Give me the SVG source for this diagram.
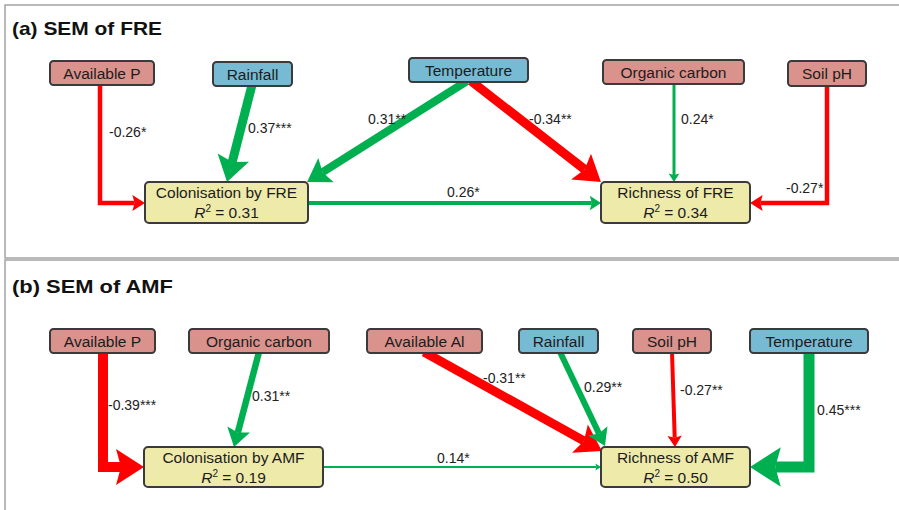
<svg xmlns="http://www.w3.org/2000/svg" width="899" height="510" viewBox="0 0 899 510">
<style>
.frame{stroke:#a3a3a3;stroke-width:1.5;fill:none}
.title{font-family:"Liberation Sans",Arial,sans-serif;font-weight:bold;font-size:19px;fill:#111}
.node rect{stroke:#3a3a3a;stroke-width:2}
.env rect{fill:#d9928c}
.clim rect{fill:#76bad3}
.resp rect{fill:#eeeaaa}
.node text{font-family:"Liberation Sans",Arial,sans-serif;font-size:15.5px;fill:#1c1c1c;text-anchor:middle}
.lbl{font-family:"Liberation Sans",Arial,sans-serif;font-size:14px;fill:#222}
.pos{stroke:#00b050;fill:none;stroke-linejoin:miter;marker-end:url(#ag)}
.neg{stroke:#ff0000;fill:none;stroke-linejoin:miter;marker-end:url(#ar)}
</style>
<defs>
<marker id="ag" markerUnits="strokeWidth" markerWidth="3" markerHeight="3.6" refX="0.5" refY="1.8" orient="auto" overflow="visible"><path d="M0,0 L2.8,1.8 L0,3.6 L0.5,1.8 Z" fill="#00b050"/></marker>
<marker id="ar" markerUnits="strokeWidth" markerWidth="3" markerHeight="3.6" refX="0.5" refY="1.8" orient="auto" overflow="visible"><path d="M0,0 L2.8,1.8 L0,3.6 L0.5,1.8 Z" fill="#ff0000"/></marker>
</defs>
<rect width="899" height="510" fill="#ffffff"/>
<g id="frames">
<path class="frame" d="M899,5 H5 V258 H899"/>
<path class="frame" d="M899,260 H5 V510"/>
</g>
<text class="title" x="12" y="35" textLength="150" lengthAdjust="spacingAndGlyphs">(a) SEM of FRE</text>
<text class="title" x="12" y="293" textLength="161" lengthAdjust="spacingAndGlyphs">(b) SEM of AMF</text>

<g id="connectors">
<!-- panel a -->
<path class="neg" stroke-width="4.5" d="M100,84 V203 H134.6"/>
<path class="pos" stroke-width="9" d="M252,85 L232.2,162"/>
<path class="pos" stroke-width="8" d="M467,81 L322.6,172.2"/>
<path class="neg" stroke-width="9" d="M471,81 L584.6,169.4"/>
<path class="pos" stroke-width="3" d="M674,83 V175.1"/>
<path class="neg" stroke-width="4.5" d="M827,85 V203 H760.4"/>
<path class="pos" stroke-width="4" d="M307,203 H591.8"/>
<!-- panel b -->
<path class="neg" stroke-width="10" d="M103,352 V467 H121"/>
<path class="pos" stroke-width="6.5" d="M259,352 L237.8,432.6"/>
<path class="pos" stroke-width="2" d="M322,467 H596.4"/>
<path class="neg" stroke-width="9" d="M424,352 L583.9,440.9"/>
<path class="pos" stroke-width="6" d="M560,352 L599,433.6"/>
<path class="neg" stroke-width="4" d="M672,352 L674.7,437.8"/>
<path class="pos" stroke-width="11" d="M809,352 V467 H775.3"/>
</g>

<g id="labels">
<text class="lbl" x="109" y="137">-0.26*</text>
<text class="lbl" x="248" y="133">0.37***</text>
<text class="lbl" x="368" y="124">0.31**</text>
<text class="lbl" x="529" y="124">-0.34**</text>
<text class="lbl" x="681" y="124">0.24*</text>
<text class="lbl" x="786" y="193">-0.27*</text>
<text class="lbl" x="447" y="197">0.26*</text>
<text class="lbl" x="108" y="410">-0.39***</text>
<text class="lbl" x="252" y="401">0.31**</text>
<text class="lbl" x="437" y="463">0.14*</text>
<text class="lbl" x="483" y="383">-0.31**</text>
<text class="lbl" x="584" y="392">0.29**</text>
<text class="lbl" x="680" y="395">-0.27**</text>
<text class="lbl" x="817" y="415">0.45***</text>
</g>

<!-- panel a nodes -->
<g id="a-availP" class="node env"><rect x="50" y="61" width="104" height="24" rx="3.5"/><text x="102" y="78.5">Available P</text></g>
<g id="a-rainfall" class="node clim"><rect x="213" y="62" width="79" height="24" rx="3.5"/><text x="252.5" y="79.5">Rainfall</text></g>
<g id="a-temp" class="node clim"><rect x="409" y="58" width="119" height="24" rx="3.5"/><text x="468.5" y="75.5">Temperature</text></g>
<g id="a-orgc" class="node env"><rect x="603" y="60" width="141" height="24" rx="3.5"/><text x="673.5" y="77.5">Organic carbon</text></g>
<g id="a-soilph" class="node env"><rect x="788" y="61" width="78" height="25" rx="3.5"/><text x="827" y="79">Soil pH</text></g>
<g id="a-col" class="node resp"><rect x="145" y="182" width="163" height="41" rx="4"/><text x="226.5" y="198">Colonisation by FRE</text><text x="226.5" y="218"><tspan font-style="italic">R</tspan><tspan dy="-6" font-size="10">2</tspan><tspan dy="6"> = 0.31</tspan></text></g>
<g id="a-rich" class="node resp"><rect x="601" y="182" width="149" height="41" rx="4"/><text x="675.5" y="198">Richness of FRE</text><text x="675.5" y="218"><tspan font-style="italic">R</tspan><tspan dy="-6" font-size="10">2</tspan><tspan dy="6"> = 0.34</tspan></text></g>

<!-- panel b nodes -->
<g id="b-availP" class="node env"><rect x="50" y="329" width="105" height="24" rx="3.5"/><text x="102.5" y="346.5">Available P</text></g>
<g id="b-orgc" class="node env"><rect x="189" y="329" width="140" height="24" rx="3.5"/><text x="259" y="346.5">Organic carbon</text></g>
<g id="b-availAl" class="node env"><rect x="367" y="329" width="115" height="24" rx="3.5"/><text x="424.5" y="346.5">Available Al</text></g>
<g id="b-rainfall" class="node clim"><rect x="519" y="329" width="79" height="24" rx="3.5"/><text x="558.5" y="346.5">Rainfall</text></g>
<g id="b-soilph" class="node env"><rect x="633" y="329" width="78" height="24" rx="3.5"/><text x="672" y="346.5">Soil pH</text></g>
<g id="b-temp" class="node clim"><rect x="750" y="329" width="118" height="24" rx="3.5"/><text x="809" y="346.5">Temperature</text></g>
<g id="b-col" class="node resp"><rect x="144" y="447" width="179" height="40" rx="4"/><text x="233.5" y="463">Colonisation by AMF</text><text x="233.5" y="483"><tspan font-style="italic">R</tspan><tspan dy="-6" font-size="10">2</tspan><tspan dy="6"> = 0.19</tspan></text></g>
<g id="b-rich" class="node resp"><rect x="601" y="447" width="149" height="40" rx="4"/><text x="675.5" y="463">Richness of AMF</text><text x="675.5" y="483"><tspan font-style="italic">R</tspan><tspan dy="-6" font-size="10">2</tspan><tspan dy="6"> = 0.50</tspan></text></g>
</svg>
